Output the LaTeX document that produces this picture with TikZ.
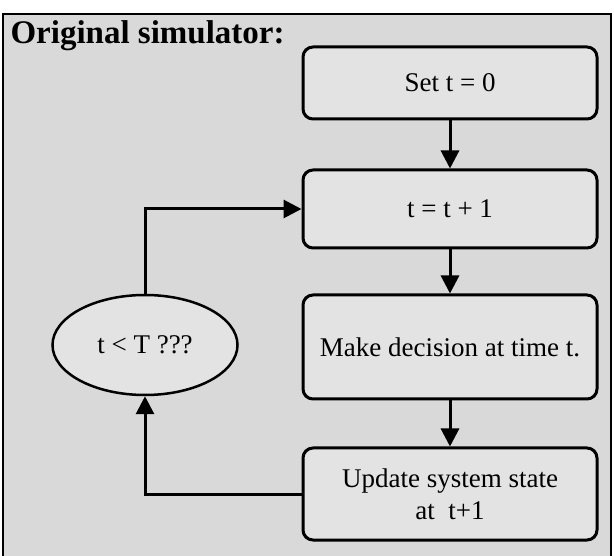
\documentclass[tikz,border=0pt]{standalone}
\usepackage{fontspec}
\setmainfont{Liberation Serif}
\usetikzlibrary{arrows.meta,shapes.geometric}
\tikzset{
  stepbox/.style={draw=black, line width=3pt, rounded corners=10pt, fill=gray!22,
    minimum width=294pt, inner sep=0pt, font=\fontsize{27}{32}\selectfont, align=center},
  decis/.style={draw=black, line width=2.5pt, ellipse, fill=gray!22, minimum width=185pt,
    minimum height=100pt, inner sep=0pt, font=\fontsize{27}{32}\selectfont},
  flow/.style={line width=3pt, -{Triangle[length=18pt,width=18pt]}}
}
\begin{document}
\begin{tikzpicture}[x=1pt,y=-1pt]
\useasboundingbox (0,0) rectangle (614,556);
\fill[white] (0,0) rectangle (614,556);
\draw[line width=2pt, fill=gray!30] (3,14) -- (3,558) -- (611,558) -- (611,14) -- cycle;
\node[anchor=west, font=\fontsize{33}{38}\selectfont\bfseries] (title) at (7,36) {Original simulator:};
\node[stepbox, minimum height=72pt] (set) at (450,83) {Set t = 0};
\node[stepbox, minimum height=78pt] (inc) at (450,209) {t = t + 1};
\node[stepbox, minimum height=104pt] (dec) at (450,347) {Make decision at time t.};
\node[stepbox, minimum height=92pt] (upd) at (450,494) {Update system state\\at~~t+1};
\node[decis] (cond) at (145,345) {t < T ???};
\draw[flow] (set) -- (inc);
\draw[flow] (inc) -- (dec);
\draw[flow] (dec) -- (upd);
\draw[flow] (cond.north) |- (inc.west);
\draw[flow] (upd.west) -| (cond.south);
\end{tikzpicture}
\end{document}
